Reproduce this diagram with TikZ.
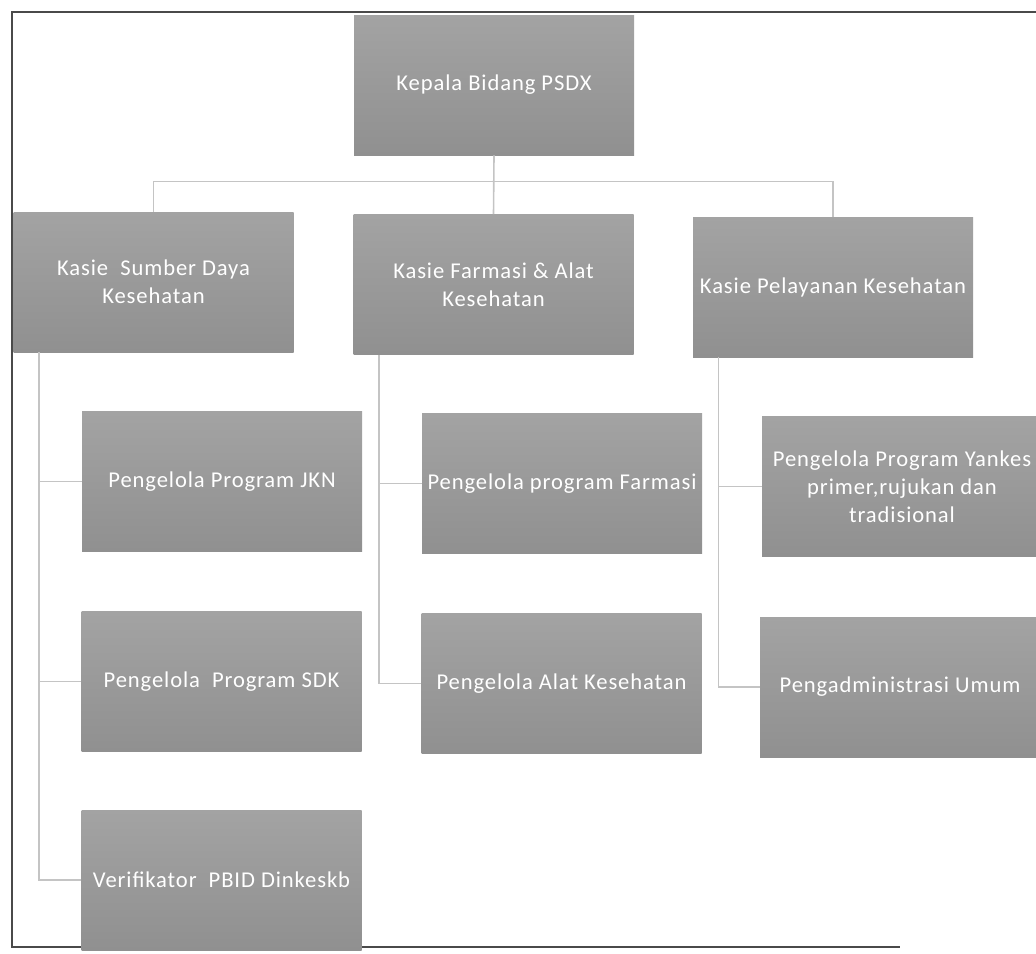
\documentclass[tikz,border=0pt]{standalone}
\usepackage{fontspec}
\setmainfont{Carlito}[LetterSpace=4]
\definecolor{boxtop}{HTML}{A3A3A3}
\definecolor{boxbot}{HTML}{909090}
\definecolor{linkgray}{HTML}{C4C4C4}
\definecolor{framegray}{HTML}{4A4A4A}
\tikzset{
	unit/.style={top color=boxtop, bottom color=boxbot, text=white, minimum width=140pt, minimum height=70pt, align=center, inner sep=2pt, font=\fontsize{11.3}{14}\selectfont},
	link/.style={draw=linkgray, line width=0.8pt},
	frame/.style={draw=framegray, line width=1.1pt}
}
\begin{document}
\begin{tikzpicture}[x=0.5pt, y=-0.5pt]
	\useasboundingbox (0,0) rectangle (1036,953);
	\draw[frame] (1036,12) -- (12,12) -- (12,947) -- (900,947);
	% kepala dan kasie
	\node[unit] (head) at (494,85) {Kepala Bidang PSDX};
	\node[unit] (sdk) at (153.5,282) {Kasie\ \ Sumber Daya\\Kesehatan};
	\node[unit] (far) at (493.5,284.5) {Kasie Farmasi \& Alat\\Kesehatan};
	\node[unit] (yan) at (833,287) {Kasie Pelayanan Kesehatan};
	% pengelola
	\node[unit] (jkn) at (222,481.5) {Pengelola Program JKN};
	\node[unit] (psdk) at (221.5,681.5) {Pengelola\ \ Program SDK};
	\node[unit] (ver) at (221.5,880) {Verifikator\ \ PBID Dinkeskb};
	\node[unit] (pfar) at (562,483.5) {Pengelola program Farmasi};
	\node[unit] (alat) at (561.5,683.5) {Pengelola Alat Kesehatan};
	\node[unit] (yank) at (902,486.5) {Pengelola Program Yankes\\primer,rujukan dan\\tradisional};
	\node[unit] (adm) at (900,687) {Pengadministrasi Umum};
	\draw[link] (head.south) -- (far.north);
	\draw[link] (sdk.north) -- ++(0,-30) -| (yan.north);
	\foreach \c in {jkn,psdk,ver}
		\draw[link] ([xshift=13pt]sdk.south west) |- (\c.west);
	\foreach \c in {pfar,alat}
		\draw[link] ([xshift=13pt]far.south west) |- (\c.west);
	\foreach \c in {yank,adm}
		\draw[link] ([xshift=13pt]yan.south west) |- (\c.west);
\end{tikzpicture}
\end{document}
